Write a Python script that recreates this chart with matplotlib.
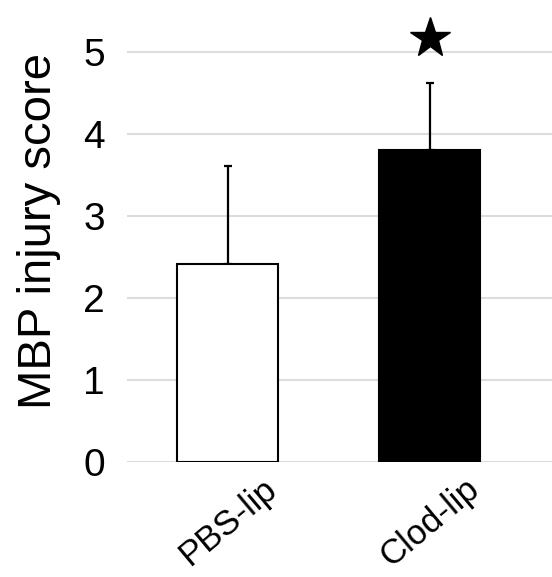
import matplotlib
matplotlib.use("Agg")
import matplotlib.pyplot as plt
from matplotlib.transforms import ScaledTranslation

categories = ["PBS-lip", "Clod-lip"]
means = [2.41, 3.80]
errors = [1.20, 0.82]
colors = ["white", "black"]
star_y = 5.17
yticks = [0, 1, 2, 3, 4, 5]

plt.rcParams['font.family'] = ['Liberation Sans', 'DejaVu Sans']

fig = plt.figure(figsize=(5.52, 5.77), dpi=100)
ax = fig.add_axes([0.230, 0.199, 0.770, 0.801])

x = list(range(len(categories)))
ax.bar(x, means, width=0.5, color=colors, edgecolor="black", linewidth=1.5, zorder=3)
ax.errorbar(x, means, yerr=[[0, 0], errors], fmt="none", ecolor="black",
            elinewidth=1.6, capsize=3, capthick=1.6, zorder=2)
ax.plot([x[1]], [star_y], marker="*", markersize=30, color="black",
        linestyle="none", clip_on=False, zorder=4)

ax.set_ylim(0, 5.63)
ax.set_xlim(-0.5, 1.604)
ax.set_yticks(yticks)
ax.set_yticklabels([str(t) for t in yticks], fontsize=28)
ax.set_xticks(x)
ax.set_xticklabels(categories, rotation=40, ha="center", fontsize=25)
offset = ScaledTranslation(0.08, 0, fig.dpi_scale_trans)
for lab in ax.get_xticklabels():
    lab.set_transform(lab.get_transform() + offset)
ax.tick_params(axis="y", length=0, pad=16)
ax.tick_params(axis="x", length=0, pad=7)
ax.yaxis.grid(True, color="#dcdcdc", linewidth=1.5, zorder=0)
ax.set_axisbelow(True)
for s in ax.spines.values():
    s.set_visible(False)
ax.set_ylabel("MBP injury score", fontsize=34, labelpad=16)

fig.savefig("out.png", dpi=100)
